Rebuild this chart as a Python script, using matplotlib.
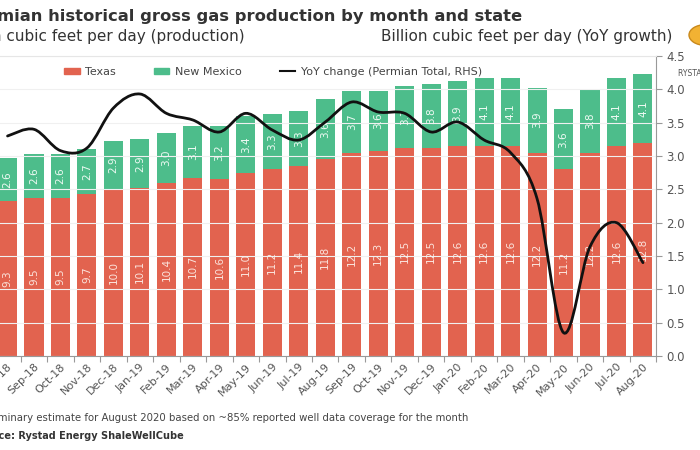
import matplotlib.pyplot as plt
from matplotlib.path import Path
from matplotlib.patches import PathPatch, Patch, Circle
from matplotlib.lines import Line2D
import numpy as np

months = ["Aug-18", "Sep-18", "Oct-18", "Nov-18", "Dec-18", "Jan-19", "Feb-19",
          "Mar-19", "Apr-19", "May-19", "Jun-19", "Jul-19", "Aug-19", "Sep-19",
          "Oct-19", "Nov-19", "Dec-19", "Jan-20", "Feb-20", "Mar-20", "Apr-20",
          "May-20", "Jun-20", "Jul-20", "Aug-20"]
texas = [9.3, 9.5, 9.5, 9.7, 10.0, 10.1, 10.4, 10.7, 10.6, 11.0, 11.2, 11.4, 11.8,
         12.2, 12.3, 12.5, 12.5, 12.6, 12.6, 12.6, 12.2, 11.2, 12.2, 12.6, 12.8]
new_mexico = [2.6, 2.6, 2.6, 2.7, 2.9, 2.9, 3.0, 3.1, 3.2, 3.4, 3.3, 3.3, 3.6,
              3.7, 3.6, 3.7, 3.8, 3.9, 4.1, 4.1, 3.9, 3.6, 3.8, 4.1, 4.1]
yoy = [3.30, 3.40, 3.08, 3.12, 3.72, 3.93, 3.64, 3.54, 3.36, 3.64, 3.39, 3.24, 3.51,
       3.81, 3.66, 3.64, 3.36, 3.51, 3.24, 3.05, 2.36, 0.35, 1.64, 2.00, 1.40]

RED = "#e2634f"
GREEN = "#4dbd8b"
GREY = "#555555"

fig = plt.figure(figsize=(7, 4.5), dpi=100)
W, H = 700, 450
# axes starts a few pixels left of the figure (cropped look of the original)
ax = fig.add_axes([-5.7 / W, 94 / H, 661.9 / W, 300 / H])
ax2 = ax.twinx()

x = np.arange(len(months))
ax.bar(x, texas, width=0.72, color=RED, zorder=2)
ax.bar(x, new_mexico, width=0.72, bottom=texas, color=GREEN, zorder=2)
for i in range(len(months)):
    ax.text(x[i], texas[i] / 2, f"{texas[i]:.1f}", rotation=90, ha="center",
            va="center", fontsize=7.5, color="#fbe3dc", zorder=3)
    ax.text(x[i], texas[i] + new_mexico[i] / 2, f"{new_mexico[i]:.1f}", rotation=90,
            ha="center", va="center", fontsize=7.5, color="#eefaf3", zorder=3)

ax.set_xlim(-0.5, len(months) - 0.5)
ax.set_ylim(0, 18)
ax.set_yticks([])
ax.set_xticks(np.arange(-0.5, len(months)))
ax.set_xticklabels([])
ax.set_xticks(x, minor=True)
ax.set_xticklabels(months, minor=True, rotation=45, ha="right",
                   rotation_mode="anchor", fontsize=8, color=GREY)
ax.tick_params(axis="x", which="minor", length=0, pad=4)
ax.tick_params(axis="x", which="major", length=4, color="#999999")
for s in ["left", "top", "right"]:
    ax.spines[s].set_visible(False)
ax.spines["bottom"].set_color("#999999")

# smooth YoY line, bezier segments through the monthly points
pts = np.column_stack([x, yoy])
verts = [pts[0]]
codes = [Path.MOVETO]
n = len(pts)
for i in range(n - 1):
    p0 = pts[max(i - 1, 0)]
    p1 = pts[i]
    p2 = pts[i + 1]
    p3 = pts[min(i + 2, n - 1)]
    verts += [p1 + (p2 - p0) / 6, p2 - (p3 - p1) / 6, p2]
    codes += [Path.CURVE4] * 3
ax2.add_patch(PathPatch(Path(verts, codes), facecolor="none", edgecolor="#111111",
                        lw=2, zorder=4, capstyle="round"))
ax2.set_ylim(0, 4.5)
ax2.set_yticks(np.arange(0, 4.51, 0.5))
ax2.set_yticklabels([f"{v:.1f}" for v in np.arange(0, 4.51, 0.5)], fontsize=8.5,
                    color=GREY)
ax2.tick_params(axis="y", length=4, color="#999999")
ax2.grid(axis="y", color="#f0f0f0", lw=0.8)
ax2.set_zorder(ax.get_zorder() + 1)
ax2.patch.set_visible(False)
ax.set_axisbelow(True)
for s in ["left", "bottom"]:
    ax2.spines[s].set_visible(False)
ax2.spines["top"].set_color("#e6e6e6")
ax2.spines["right"].set_color("#999999")

handles = [Patch(color=RED, label="Texas"), Patch(color=GREEN, label="New Mexico"),
           Line2D([], [], color="#111111", lw=1.5, label="YoY change (Permian Total, RHS)")]
fig.legend(handles=handles, loc="center", bbox_to_anchor=(273 / W, 1 - 72 / H), ncol=3,
           frameon=False, fontsize=8, handlelength=1.4, handleheight=0.5,
           columnspacing=3.4, handletextpad=0.5, labelcolor="#444444")

fig.text(522 / W, 1 - 16 / H, "Permian historical gross gas production by month and state",
         ha="right", va="center", fontsize=11.8, fontweight="bold", color="#333333")
fig.text(245 / W, 1 - 37 / H, "Billion cubic feet per day (production)",
         ha="right", va="center", fontsize=11, color="#333333")
fig.text(672 / W, 1 - 37 / H, "Billion cubic feet per day (YoY growth)",
         ha="right", va="center", fontsize=11, color="#333333")
fig.text(468 / W, 1 - 418 / H,
         "Preliminary estimate for August 2020 based on ~85% reported well data coverage for the month",
         ha="right", va="center", fontsize=7.3, color="#444444")
fig.text(184 / W, 1 - 436 / H, "Source: Rystad Energy ShaleWellCube",
         ha="right", va="center", fontsize=7, fontweight="bold", color="#333333")
fig.text(678 / W, 1 - 73 / H, "RYSTAD ENERGY", ha="left", va="center",
         fontsize=5.5, color="#555555")
fig.patches.append(Circle((705 / W, 1 - 35 / H), 16 / W, transform=fig.transFigure,
                          facecolor="#f2b233", edgecolor="#c9891c", lw=1))

fig.savefig("out.png", dpi=100)
